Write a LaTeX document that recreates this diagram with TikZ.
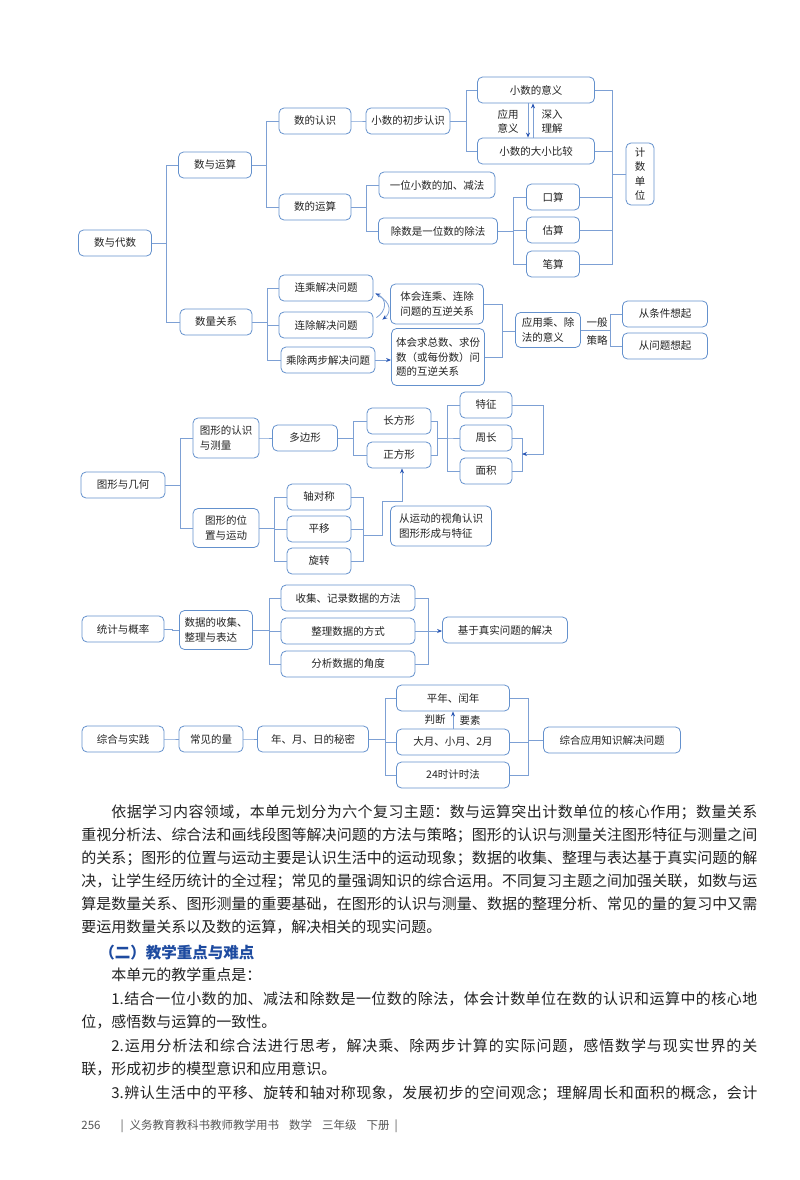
\documentclass[tikz,border=0pt]{standalone}
\usepackage{fontspec}
\setmainfont{Noto Sans CJK SC}
\usetikzlibrary{arrows.meta}
\XeTeXlinebreaklocale "zh"
\XeTeXlinebreakskip=0pt plus 2pt
\tolerance=9999
\definecolor{boxblue}{RGB}{100,145,205}
\definecolor{lineblue}{RGB}{125,160,212}
\definecolor{arrowblue}{RGB}{40,85,180}
\definecolor{headblue}{RGB}{30,75,160}
\definecolor{ink}{RGB}{35,35,35}
\definecolor{footgray}{RGB}{85,85,85}
\begin{document}
\begin{tikzpicture}
  [x=1pt,y=-1pt,line width=0.8pt,color=lineblue,
   every node/.style={font=\fontsize{10.5}{14.5}\selectfont,text=ink},
   box/.style={draw=boxblue,rounded corners=5pt,minimum height=26,inner sep=2pt},
   lab/.style={inner sep=1pt},
   arr/.style={-{Stealth[length=5pt,width=4pt,color=arrowblue]}}]
  \fill[white] (0,0) rectangle (800,1180);
  \useasboundingbox (0,0) rectangle (800,1180);

  % number and algebra
  \node[box,minimum width=73] (a1) at (115,243) {数与代数};
  \node[box,minimum width=73] (a2) at (215,165) {数与运算};
  \node[box,minimum width=72] (a3) at (216,322) {数量关系};
  \node[box,minimum width=72] (a4) at (315,121) {数的认识};
  \node[box,minimum width=72] (a5) at (315,207) {数的运算};
  \node[box,minimum width=84] (a6) at (408,121) {小数的初步认识};
  \node[box,minimum width=117] (a7) at (536,90) {小数的意义};
  \node[box,minimum width=117] (a8) at (536,151) {小数的大小比较};
  \node[box,minimum width=116] (a9) at (437,185) {一位小数的加、减法};
  \node[box,minimum width=119] (a10) at (438,231) {除数是一位数的除法};
  \node[box,minimum width=53] (a11) at (553,197) {口算};
  \node[box,minimum width=53] (a12) at (553,230) {估算};
  \node[box,minimum width=53] (a13) at (553,264) {笔算};
  \node[box,minimum width=28,minimum height=62,align=center] (a14) at (640,174) {计\\数\\单\\位};
  \node[box,minimum width=94] (a15) at (326,288) {连乘解决问题};
  \node[box,minimum width=94] (a16) at (326,325) {连除解决问题};
  \node[box,minimum width=94] (a17) at (328,360) {乘除两步解决问题};
  \node[box,minimum width=93,minimum height=40,align=left] (a18) at (437,304) {体会连乘、连除\\问题的互逆关系};
  \node[box,minimum width=93,minimum height=57,align=left] (a19) at (438,357) {体会求总数、求份\\数（或每份数）问\\题的互逆关系};
  \node[box,minimum width=65,minimum height=35,align=left] (a20) at (548,330) {应用乘、除\\法的意义};
  \node[box,minimum width=85] (a21) at (665,314) {从条件想起};
  \node[box,minimum width=85] (a22) at (665,346) {从问题想起};
  \node[lab,align=center] (y1) at (508,121.5) {应用\\意义};
  \node[lab,align=center] (y2) at (552,121.5) {深入\\理解};
  \node[lab] (y3) at (597,323) {一般};
  \node[lab] (y4) at (597,340) {策略};

  % shapes and geometry
  \node[box,minimum width=84] (g1) at (123,485) {图形与几何};
  \node[box,minimum width=66,minimum height=40,align=left] (g2) at (226,438) {图形的认识\\与测量};
  \node[box,minimum width=66,minimum height=39,align=center] (g3) at (226,528) {图形的位\\置与运动};
  \node[box,minimum width=65] (g4) at (305,438) {多边形};
  \node[box,minimum width=64] (g5) at (399,421) {长方形};
  \node[box,minimum width=64] (g6) at (399,455) {正方形};
  \node[box,minimum width=52] (g7) at (486,405) {特征};
  \node[box,minimum width=52] (g8) at (486,438) {周长};
  \node[box,minimum width=52] (g9) at (486,471) {面积};
  \node[box,minimum width=64] (g10) at (319,497) {轴对称};
  \node[box,minimum width=64] (g11) at (319,529) {平移};
  \node[box,minimum width=64] (g12) at (319,561) {旋转};
  \node[box,minimum width=101,minimum height=40,align=left] (g13) at (441,526) {从运动的视角认识\\图形形成与特征};

  % statistics
  \node[box,minimum width=82] (t1) at (123,629) {统计与概率};
  \node[box,minimum width=73,minimum height=39,align=left] (t2) at (216,630) {数据的收集、\\整理与表达};
  \node[box,minimum width=134] (t3) at (348,598) {收集、记录数据的方法};
  \node[box,minimum width=134] (t4) at (348,631) {整理数据的方式};
  \node[box,minimum width=134] (t5) at (348,664) {分析数据的角度};
  \node[box,minimum width=125] (t6) at (505,630) {基于真实问题的解决};

  % practice
  \node[box,minimum width=82] (z1) at (123,739) {综合与实践};
  \node[box,minimum width=64] (z2) at (211,739) {常见的量};
  \node[box,minimum width=111] (z3) at (313,739) {年、月、日的秘密};
  \node[box,minimum width=113] (z4) at (453,698) {平年、闰年};
  \node[box,minimum width=113] (z5) at (453,742) {大月、小月、2月};
  \node[box,minimum width=113] (z6) at (453,775) {24时计时法};
  \node[box,minimum width=137] (z7) at (612,740) {综合应用知识解决问题};
  \node[lab] (y5) at (435,720) {判断};
  \node[lab] (y6) at (470,720) {要素};

  \foreach \from/\to/\dx in {a1/a2/14.5,a1/a3/14.5,a2/a4/14.5,a2/a5/14.5,a4/a6/8,
      a6/a7/16,a6/a8/16,a5/a9/15,a5/a10/15,a10/a11/15.5,a10/a12/15.5,a10/a13/15.5,
      a3/a15/15,a3/a16/15,a3/a17/15,a20/a21/29.5,a20/a22/29.5,
      g1/g2/15,g1/g3/15,g2/g4/7,g4/g5/15.5,g4/g6/15.5,g3/g10/15,g3/g11/15,g3/g12/15,
      t1/t2/8,t2/t3/16.5,t2/t4/16.5,t2/t5/16.5,
      z1/z2/8,z2/z3/8,z3/z4/16.5,z3/z5/16.5,z3/z6/16.5}
    \draw (\from.east) -- ++(\dx,0) |- (\to.west);

  \coordinate (c1) at (612,174);
  \foreach \from in {a7,a8,a11,a12,a13}
    \draw (\from.east) -| (c1);
  \draw (c1) -- (c1 -| a14.west);
  \coordinate (c2) at (502,331);
  \foreach \from in {a18,a19}
    \draw (\from.east) -| (c2);
  \draw (c2) -- (c2 -| a20.west);
  \draw[arr] (a17.east) -- (a17.east -| a19.west);
  \draw[arr] ([xshift=-8pt]a7.south) -- ([xshift=-8pt]a8.north);
  \draw[arr] ([xshift=-3pt]a8.north) -- ([xshift=-3pt]a7.south);
  \draw[arr] ([shift={(3pt,-6pt)}]a16.north east) .. controls (387,311) and (387,299) .. ([shift={(2pt,8pt)}]a15.south east);
  \draw[arr] ([shift={(4pt,6pt)}]a15.south east) .. controls (392,302) and (391,313) .. ([shift={(9pt,-8pt)}]a16.north east);

  \coordinate (c3) at (437,438);
  \draw (g5.east) -| (c3);
  \draw (g6.east) -| (c3);
  \foreach \to in {g7,g8,g9}
    \draw (c3) -- ++(10,0) |- (\to.west);
  \draw (g8.east) -- ++(10,0) |- (g9.east);
  \coordinate (c4) at (522,454);
  \draw[arr] (g7.east) -- ++(31,0) |- (c4);
  \coordinate (c5) at (363,535);
  \foreach \from in {g10,g11,g12}
    \draw (\from.east) -| (c5);
  \draw[arr] (c5) -| (382,501) -| ([xshift=3pt]g6.south);

  \coordinate (c6) at (428,631);
  \foreach \from in {t3,t4,t5}
    \draw (\from.east) -| (c6);
  \draw[arr] (c6) -- (c6 -| t6.west);

  \coordinate (c7) at (528,740);
  \foreach \from in {z4,z5,z6}
    \draw (\from.east) -| (c7);
  \draw (c7) -- (c7 -| z7.west);
  \draw[arr] (z5.north) -- (z4.south);

  % text below
  \node[anchor=base west,inner sep=0,text width=676,align=justify,font=\fontsize{15}{23}\selectfont] (p1) at (81,817.5)
    {\hspace*{30pt}依据学习内容领域，本单元划分为六个复习主题：数与运算突出计数单位的核心作用；数量关系\linebreak
     重视分析法、综合法和画线段图等解决问题的方法与策略；图形的认识与测量关注图形特征与测量之间\linebreak
     的关系；图形的位置与运动主要是认识生活中的运动现象；数据的收集、整理与表达基于真实问题的解\linebreak
     决，让学生经历统计的全过程；常见的量强调知识的综合运用。不同复习主题之间加强关联，如数与运\linebreak
     算是数量关系、图形测量的重要基础，在图形的认识与测量、数据的整理分析、常见的量的复习中又需\linebreak
     要运用数量关系以及数的运算，解决相关的现实问题。};
  \node[anchor=base west,inner sep=0,font=\fontsize{15.5}{18}\selectfont\bfseries,text=headblue] (p2) at (99,958.5) {（二）教学重点与难点};
  \node[anchor=base west,inner sep=0,text width=676,align=justify,font=\fontsize{15}{23.6}\selectfont] (p3) at (81,980.5)
    {\hspace*{30pt}本单元的教学重点是：\par
     \hspace*{30pt}1.结合一位小数的加、减法和除数是一位数的除法，体会计数单位在数的认识和运算中的核心地\linebreak
     位，感悟数与运算的一致性。\par
     \hspace*{30pt}2.运用分析法和综合法进行思考，解决乘、除两步计算的实际问题，感悟数学与现实世界的关\linebreak
     联，形成初步的模型意识和应用意识。\par
     {\parfillskip=0pt \hspace*{30pt}3.辨认生活中的平移、旋转和轴对称现象，发展初步的空间观念；理解周长和面积的概念，会计\par}};
  \node[anchor=base west,inner sep=0,font=\fontsize{11.5}{13}\selectfont,text=footgray] (p4) at (81,1129)
    {256\hspace{20pt}|\hspace{6pt}义务教育教科书教师教学用书\hspace{10pt}数学\hspace{10pt}三年级\hspace{10pt}下册\hspace{5pt}|};
\end{tikzpicture}
\end{document}
